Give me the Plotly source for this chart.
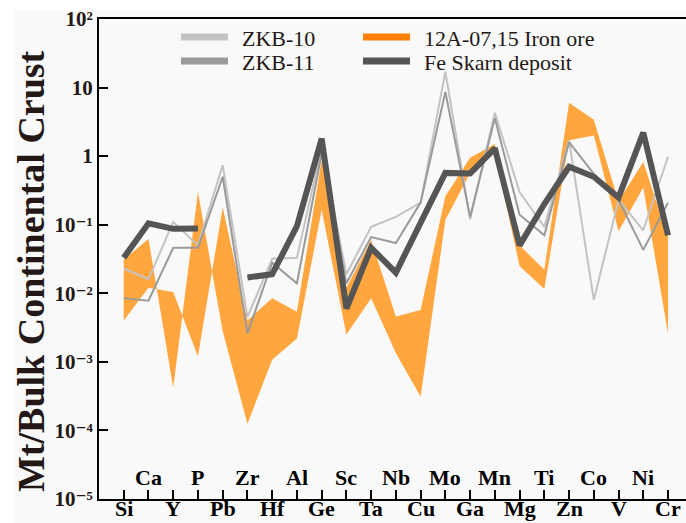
import plotly.graph_objects as go

elements = ["Si", "Ca", "Y", "P", "Pb", "Zr", "Hf", "Al", "Ge", "Sc", "Ta", "Nb",
            "Cu", "Mo", "Ga", "Mn", "Mg", "Ti", "Zn", "Co", "V", "Ni", "Cr"]

# Iron ore samples (12A-07, 12A-15) -- the orange band is filled between them
ore_a = [0.031, 0.062, 0.00042, 0.30, 0.0028, 0.000125, 0.00107, 0.0022, 0.165, 0.0025,
         0.0085, 0.00135, 0.00031, 0.117, 0.57, 1.1, 0.025, 0.0115, 1.7, 2.0, 0.08, 0.35, 0.0026]
ore_b = [0.004, 0.012, 0.0104, 0.0012, 0.18, 0.004, 0.0085, 0.0054, 0.88, 0.012,
         0.06, 0.0046, 0.0057, 0.26, 0.95, 1.5, 0.05, 0.022, 6.0, 3.4, 0.22, 0.82, 0.066]

zkb10 = [0.023, 0.016, 0.11, 0.05, 0.74, 0.0045, 0.032, 0.033, 1.3, 0.019, 0.093, 0.13,
         0.21, 17, 0.12, 4.3, 0.3, 0.093, 1.7, 0.008, 0.23, 0.083, 0.98]
zkb11 = [0.0085, 0.0078, 0.046, 0.046, 0.5, 0.0026, 0.028, 0.014, 1.1, 0.014, 0.066, 0.054,
         0.21, 8.6, 0.13, 3.6, 0.14, 0.07, 1.6, 0.55, 0.23, 0.043, 0.21]
fe_skarn = [0.033, 0.105, 0.087, 0.088, None, 0.017, 0.019, 0.095, 1.8, 0.006, 0.046, 0.020,
            0.11, 0.57, 0.56, 1.3, 0.05, 0.2, 0.7, 0.5, 0.25, 2.2, 0.07]

ytick_vals = [1e2, 1e1, 1e0, 1e-1, 1e-2, 1e-3, 1e-4, 1e-5]
ytick_text = ["10²", "10", "1", "10⁻¹", "10⁻²", "10⁻³", "10⁻⁴", "10⁻⁵"]

legend_items = [("ZKB-10", "#c3c3c3", 0, 0), ("ZKB-11", "#9a9a9a", 0, 1),
                ("12A-07,15 Iron ore", "#ff8000", 1, 0), ("Fe Skarn deposit", "#555555", 1, 1)]

SERIF = "Liberation Serif, Times New Roman, DejaVu Serif, serif"
TXT = "#231815"

W, H = 686, 523
L, R, T, B = 99, 0, 19, 24
PW, PH = W - L - R, H - T - B

def px(x):
    return (x - L) / PW

def py(y):
    return (H - B - y) / PH

idx = list(range(len(elements)))

fig = go.Figure()
fig.add_trace(go.Scatter(x=idx, y=ore_a, mode="lines", line=dict(width=0, color="#ffa63e"),
                         showlegend=False, hoverinfo="skip"))
fig.add_trace(go.Scatter(x=idx, y=ore_b, mode="lines", line=dict(width=0, color="#ffa63e"),
                         fill="tonexty", fillcolor="#ffa63e", showlegend=False))
fig.add_trace(go.Scatter(x=idx, y=zkb10, mode="lines", line=dict(width=2, color="#c3c3c3"),
                         showlegend=False))
fig.add_trace(go.Scatter(x=idx, y=zkb11, mode="lines", line=dict(width=2, color="#9a9a9a"),
                         showlegend=False))
fig.add_trace(go.Scatter(x=idx, y=fe_skarn, mode="lines", line=dict(width=6, color="#555555"),
                         connectgaps=False, showlegend=False))

shapes = [dict(type="rect", xref="paper", yref="paper", x0=px(14), x1=px(W + 5), y0=py(H + 5), y1=py(10),
               fillcolor="#f9f9f9", line=dict(width=0), layer="below")]
annotations = []
for name, color, col, row in legend_items:
    x0 = 181 if col == 0 else 363
    ly = 37 + row * 24
    shapes.append(dict(type="line", xref="paper", yref="paper", x0=px(x0), x1=px(x0 + 47),
                       y0=py(ly), y1=py(ly), line=dict(color=color, width=7)))
    annotations.append(dict(text=name, xref="paper", yref="paper", x=px(x0 + 59), y=py(ly + 1.5),
                            xanchor="left", yanchor="middle", showarrow=False,
                            font=dict(family=SERIF, size=22, color=TXT)))

# element labels: upper row inside the plot, lower row below the axis
for i, el in enumerate(elements):
    ycen = 477 if i % 2 == 1 else 509
    annotations.append(dict(text=el, xref="x", yref="paper", x=i, y=py(ycen),
                            xanchor="center", yanchor="middle", showarrow=False, borderpad=0,
                            font=dict(family=SERIF, size=22, color="#000", weight="bold")))

annotations.append(dict(text="Mt/Bulk Continental Crust", xref="paper", yref="paper",
                        x=px(31), y=py(271), textangle=-90, showarrow=False,
                        xanchor="center", yanchor="middle",
                        font=dict(family=SERIF, size=38, color=TXT, weight="bold")))

fig.update_layout(
    width=W, height=H,
    margin=dict(l=L, r=R, t=T, b=B),
    paper_bgcolor="white", plot_bgcolor="#f9f9f9",
    shapes=shapes, annotations=annotations,
    xaxis=dict(range=[-1, -1 + PW / 24.74],
               tick0=0, dtick=1, showticklabels=False,
               ticks="inside", ticklen=9, tickwidth=1.5, tickcolor="black",
               showline=True, linewidth=2, linecolor="black", mirror=True,
               showgrid=False, zeroline=False),
    yaxis=dict(type="log", range=[-5, 2], tickvals=ytick_vals, ticktext=ytick_text,
               ticks="inside", ticklen=9, tickwidth=1.5, tickcolor="black",
               showline=True, linewidth=2, linecolor="black",
               showgrid=False, zeroline=False,
               tickfont=dict(family=SERIF, size=21, color=TXT, weight="bold")),
    showlegend=False,
)

fig.write_html("out.html")
